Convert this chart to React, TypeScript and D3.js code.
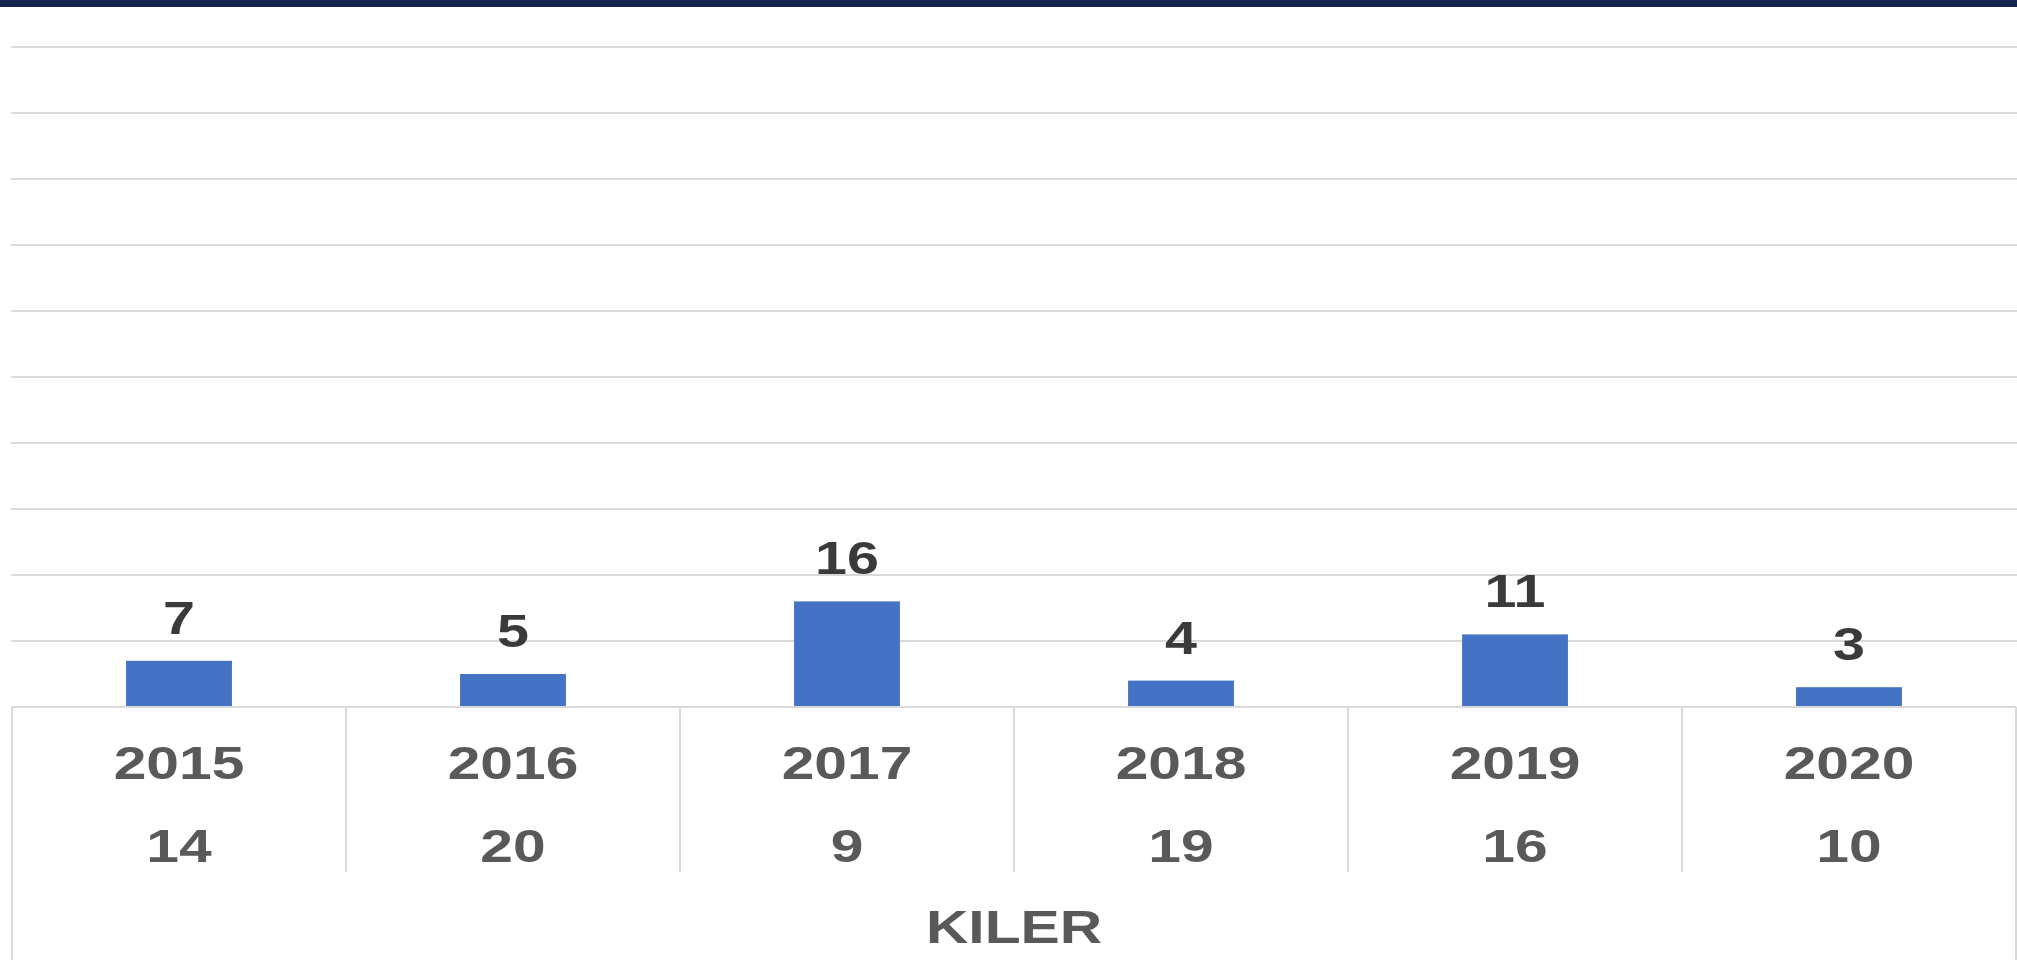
import React from "react";
import * as d3 from "d3";

const years = ["2015", "2016", "2017", "2018", "2019", "2020"];
const barValues = [7, 5, 16, 4, 11, 3];
const rowValues = [14, 20, 9, 19, 16, 10];
const groupLabel = "KILER";
const yTicks = [0, 10, 20, 30, 40, 50, 60, 70, 80, 90, 100];

const W = 2017;
const H = 960;
const left = 12;
const right = 2016;
const top = 47;
const base = 707;
const SX = 1.25;

function T({ x, y, size, fill, children }: { x: number; y: number; size: number; fill: string; children: React.ReactNode }) {
  return (
    <text
      transform={`translate(${x},${y}) scale(${SX},1)`}
      textAnchor="middle"
      fontFamily="'Liberation Sans', Arial, sans-serif"
      fontWeight="bold"
      fontSize={size}
      fill={fill}
    >
      {children}
    </text>
  );
}

export default function App() {
  const x = d3.scaleBand<string>().domain(years).range([left, right]).paddingInner(0).paddingOuter(0);
  const y = d3.scaleLinear().domain([0, 100]).range([base, top]);
  const bw = x.bandwidth() * 0.317;
  return (
    <svg width={W} height={H} style={{ position: "absolute", left: 0, top: 0, background: "#fff" }}>
      <rect x={0} y={0} width={W} height={7} fill="#14244b" />
      {yTicks.slice(1).map((t) => (
        <line key={t} x1={left - 1} x2={W} y1={y(t)} y2={y(t)} stroke="#d9d9d9" strokeWidth={2} />
      ))}
      {years.map((yr, i) => {
        const cx = (x(yr) as number) + x.bandwidth() / 2;
        return (
          <g key={yr}>
            <rect x={cx - bw / 2} y={y(barValues[i])} width={bw} height={base - y(barValues[i])} fill="#4472c4" />
            <T x={cx} y={y(barValues[i]) - 27} size={46} fill="#3a3a3a">
              {barValues[i]}
            </T>
            <T x={cx} y={779} size={47} fill="#595959">
              {yr}
            </T>
            <T x={cx} y={862} size={47} fill="#595959">
              {rowValues[i]}
            </T>
          </g>
        );
      })}
      <line x1={left} x2={right} y1={base} y2={base} stroke="#d9d9d9" strokeWidth={2} />
      {years.slice(1).map((yr) => (
        <line key={yr} x1={x(yr) as number} x2={x(yr) as number} y1={base} y2={872} stroke="#d9d9d9" strokeWidth={2} />
      ))}
      <line x1={left} x2={left} y1={base} y2={H} stroke="#d9d9d9" strokeWidth={2} />
      <line x1={right} x2={right} y1={base} y2={H} stroke="#d9d9d9" strokeWidth={2} />
      <T x={(left + right) / 2} y={943} size={47} fill="#595959">
        {groupLabel}
      </T>
    </svg>
  );
}
